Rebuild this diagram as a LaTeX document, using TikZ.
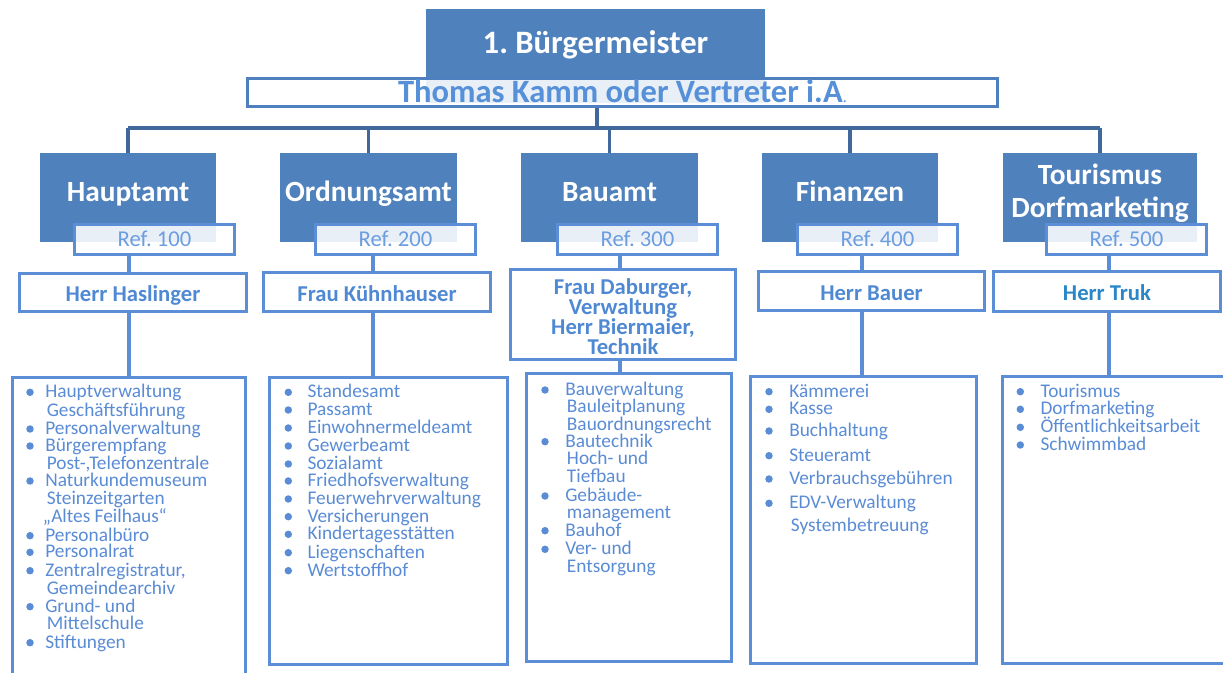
\documentclass[tikz,border=0pt]{standalone}
\usepackage{fontspec}
\setmainfont{Carlito}
\usetikzlibrary{calc}
\frenchspacing
\definecolor{bluefill}{HTML}{4F81BD}
\definecolor{toplc}{HTML}{40689A}
\definecolor{bordc}{HTML}{5B8ED6}
\definecolor{thomc}{HTML}{4E80C0}
\definecolor{thomtc}{HTML}{5590D8}
\definecolor{herrc}{HTML}{5089D3}
\definecolor{trukc}{HTML}{2A86C6}
\definecolor{refc}{HTML}{6C9DE0}
\definecolor{listc}{HTML}{5A8CD6}
\begin{document}
\begin{tikzpicture}[x=0.75pt,y=-0.75pt,
  topbox/.style={rectangle, fill=bluefill, inner sep=0pt, text=white,
    font=\bfseries\fontsize{24.5pt}{27pt}\selectfont},
  deptbox/.style={rectangle, fill=bluefill, inner sep=0pt, text=white, align=center,
    font=\bfseries\fontsize{22pt}{24.75pt}\selectfont, minimum height=89*0.75pt},
  thombox/.style={rectangle, draw=thomc, line width=2.3pt, fill=white, fill opacity=0.88,
    text opacity=1, inner sep=0pt, text=thomtc, font=\bfseries\fontsize{24.4pt}{27pt}\selectfont},
  refbox/.style={rectangle, draw=bordc, line width=2.3pt, fill=white, fill opacity=0.88,
    text opacity=1, inner sep=0pt, text=refc, font=\fontsize{17pt}{20pt}\selectfont,
    text height=12pt, text depth=1pt, minimum width=160*0.75pt, minimum height=30*0.75pt},
  herrbox/.style={rectangle, draw=bordc, line width=2.3pt, fill=white, inner sep=0pt,
    text=herrc, align=center,
    font=\bfseries\fontsize{17pt}{15pt}\selectfont},
  listbox/.style={rectangle, draw=bordc, line width=2.3pt, fill=white, inner sep=0pt},
  listtxt/.style={anchor=base west, inner sep=0pt, text=listc,
    font=\fontsize{14.5pt}{17pt}\selectfont},
  topln/.style={draw=toplc, line width=2.3pt},
  lowln/.style={draw=bordc, line width=2.3pt},
  bul/.style={fill=listc}
]
\useasboundingbox (0,0) rectangle (1223,673);

% top
\node[topbox, minimum width=339*0.75pt, minimum height=94*0.75pt,
  text height=17pt, text depth=20pt] (top) at (595.5,56) {1. Bürgermeister};
\node[thombox, minimum width=750*0.75pt, minimum height=28*0.75pt,
  text height=16.5pt, text depth=2pt] (thomas) at (622.5,92.5)
  {Thomas Kamm oder Vertreter i.A{\mdseries\fontsize{12pt}{12pt}\selectfont .}};

% bus
\coordinate (hub) at (597,128);
\coordinate (busL) at (128,128);
\coordinate (busR) at (1100,128);

% departments
\node[deptbox, minimum width=176*0.75pt, text height=15.5pt, text depth=9.5pt] (d1) at (128,197.5) {Hauptamt};
\node[deptbox, minimum width=177*0.75pt, text height=15.5pt, text depth=9.5pt] (d2) at (368.5,197.5) {Ordnungsamt};
\node[deptbox, minimum width=177*0.75pt, text height=15.5pt, text depth=9.5pt] (d3) at (609.5,197.5) {Bauamt};
\node[deptbox, minimum width=176*0.75pt, text height=15.5pt, text depth=9.5pt] (d4) at (850,197.5) {Finanzen};
\node[deptbox, minimum width=194*0.75pt] (d5) at (1100,197.5)
  {\rule{0pt}{17.25pt}Tourismus\\Dorfmarketing\rule[-12pt]{0pt}{12pt}};

\draw[topln] (thomas.south -| hub) -- (hub);
\draw[topln] (busL) -- (busR);
\foreach \d in {d1,d2,d3,d4,d5} \draw[topln] (\d.north |- hub) -- (\d.north);

% ref boxes
\node[refbox] (r1) at (154.5,239.5) {Ref. 100};
\node[refbox] (r2) at (395.5,239.5) {Ref. 200};
\node[refbox] (r3) at (637.5,239.5) {Ref. 300};
\node[refbox] (r4) at (877.5,239.5) {Ref. 400};
\node[refbox] (r5) at (1126.5,239.5) {Ref. 500};

% person boxes
\node[herrbox, minimum width=227*0.75pt, minimum height=38*0.75pt, text height=14pt, text depth=0pt] (h1) at (133,292.5) {Herr Haslinger};
\node[herrbox, minimum width=227*0.75pt, minimum height=39*0.75pt, text height=14pt, text depth=0pt] (h2) at (377,292) {Frau Kühnhauser};
\node[herrbox, minimum width=225*0.75pt, minimum height=90*0.75pt,
  execute at begin node={\lineskiplimit=-30pt\relax}] (h3) at (623,314.5)
  {\rule{0pt}{15pt}Frau Daburger,\\Verwaltung\\Herr Biermaier,\\Technik};
\node[herrbox, minimum width=226*0.75pt, minimum height=39*0.75pt, text height=14pt, text depth=0pt] (h4) at (871.5,291) {Herr Bauer};
\node[herrbox, minimum width=227*0.75pt, minimum height=40*0.75pt, text height=14pt, text depth=0pt, text=trukc] (h5) at (1107,291.5) {Herr Truk};

% list boxes
\node[listbox, minimum width=233*0.75pt, minimum height=321*0.75pt] (l1) at (129,538) {};
\node[listbox, minimum width=238*0.75pt, minimum height=287*0.75pt] (l2) at (388.5,521) {};
\node[listbox, minimum width=205*0.75pt, minimum height=288*0.75pt] (l3) at (629,517.5) {};
\node[listbox, minimum width=226*0.75pt, minimum height=287*0.75pt] (l4) at (863.5,520) {};
\node[listbox, minimum width=256*0.75pt, minimum height=287*0.75pt] (l5) at (1130.5,520) {};

% lower connectors
\coordinate (c1) at (129,0);
\coordinate (c2) at (373,0);
\coordinate (c3) at (620,0);
\coordinate (c4) at (862,0);
\coordinate (c5) at (1109,0);
\foreach \i in {1,...,5} {
  \draw[lowln] (r\i.south -| c\i) -- (h\i.north -| c\i);
  \draw[lowln] (h\i.south -| c\i) -- (l\i.north -| c\i);
}

% list 1
\def\bx{30}
\foreach[count=\n] \xx/\yy/\bb/\tx in {
  45/392.3/1/Hauptverwaltung, 46.5/411/0/Geschäftsführung, 45/429/1/Personalverwaltung,
  45/446/1/Bürgerempfang, 46.5/463.7/0/{Post-,Telefonzentrale}, 45/481/1/Naturkundemuseum,
  46.5/499/0/Steinzeitgarten, 42.7/517/0/„Altes Feilhaus“, 45/535.7/1/Personalbüro,
  45/552.3/1/Personalrat, 45/570.7/1/{Zentralregistratur,}, 46.5/589.3/0/Gemeindearchiv,
  45/606.7/1/Grund- und, 46.5/624.3/0/Mittelschule, 45/642.7/1/Stiftungen} {
  \node[listtxt] (ta\n) at (\xx,\yy+5.5) {\tx};
  \ifnum\bb=1 \fill[bul] (\bx,\yy) circle (2.8pt); \fi
}
% list 2
\def\bx{288.3}
\foreach[count=\n] \xx/\yy/\bb/\tx in {
  307.3/392.3/1/Standesamt, 307.3/410/1/Passamt, 307.3/428/1/Einwohnermeldeamt,
  307.3/446/1/Gewerbeamt, 307.3/464/1/Sozialamt, 307.3/481/1/Friedhofsverwaltung,
  307.3/499/1/Feuerwehrverwaltung, 307.3/516.7/1/Versicherungen,
  307.3/534.3/1/Kindertagesstätten, 307.3/552.7/1/Liegenschaften, 307.3/570.7/1/Wertstoffhof} {
  \node[listtxt] (tb\n) at (\xx,\yy+5.5) {\tx};
  \ifnum\bb=1 \fill[bul] (\bx,\yy) circle (2.8pt); \fi
}
% list 3
\def\bx{545}
\foreach[count=\n] \xx/\yy/\bb/\tx in {
  565/390/1/Bauverwaltung, 566.7/407.3/0/Bauleitplanung, 566.7/425/0/Bauordnungsrecht,
  565/441.7/1/Bautechnik, 566.7/459.3/0/Hoch- und, 566.7/477.3/0/Tiefbau,
  565/496/1/Gebäude-, 566.7/513.3/0/management, 565/530.7/1/Bauhof,
  565/549.3/1/Ver- und, 566.7/567.3/0/Entsorgung} {
  \node[listtxt] (tc\n) at (\xx,\yy+5.5) {\tx};
  \ifnum\bb=1 \fill[bul] (\bx,\yy) circle (2.8pt); \fi
}
% list 4
\def\bx{769}
\foreach[count=\n] \xx/\yy/\bb/\tx in {
  789/391.7/1/Kämmerei, 789/409.3/1/Kasse, 789/431/1/Buchhaltung, 789/455.7/1/Steueramt,
  789/479/1/Verbrauchsgebühren, 789/503.3/1/EDV-Verwaltung, 790.7/525.7/0/Systembetreuung} {
  \node[listtxt] (td\n) at (\xx,\yy+5.5) {\tx};
  \ifnum\bb=1 \fill[bul] (\bx,\yy) circle (2.8pt); \fi
}
% list 5
\def\bx{1020.3}
\foreach[count=\n] \xx/\yy/\bb/\tx in {
  1040.3/391.7/1/Tourismus, 1040.3/409.3/1/Dorfmarketing,
  1040.3/427.3/1/Öffentlichkeitsarbeit, 1040.3/445/1/Schwimmbad} {
  \node[listtxt] (te\n) at (\xx,\yy+5.5) {\tx};
  \ifnum\bb=1 \fill[bul] (\bx,\yy) circle (2.8pt); \fi
}
\end{tikzpicture}
\end{document}
